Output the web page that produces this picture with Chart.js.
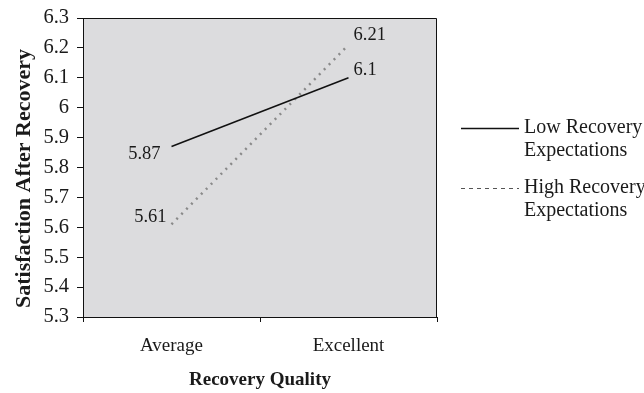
<!DOCTYPE html>
<html>
<head>
<meta charset="utf-8">
<script src="https://cdn.jsdelivr.net/npm/chart.js@4"></script>
<style>
    html, body { margin: 0; padding: 0; background: #fff; }
    #wrap { width: 644px; height: 393px; }
</style>
</head>
<body>
<div id="wrap"><canvas id="chart" width="644" height="393"></canvas></div>
<script>
const CATEGORIES = ['Average', 'Excellent'];
const LOW_EXPECTATIONS = [5.87, 6.1];
const HIGH_EXPECTATIONS = [5.61, 6.21];
const SERIES_NAMES = [['Low Recovery', 'Expectations'], ['High Recovery', 'Expectations']];
const Y_MIN = 5.3;
const Y_MAX = 6.3;
const Y_STEP = 0.1;

const SERIF = "'Liberation Serif', 'Times New Roman', serif";
const TEXT_COLOR = '#1a1a1a';

// where each value label sits relative to its point
const LABEL_PLACEMENT = [
    [{ dx: -11, dy: 8, align: 'right' }, { dx: 5, dy: -8, align: 'left' }],
    [{ dx: -5, dy: -7, align: 'right' }, { dx: 5, dy: -10, align: 'left' }]
];

function formatTick(value) {
    return String(Number(value.toFixed(1)));
}

const plotBox = {
    id: 'plotBox',
    beforeDraw(chart) {
        const { ctx, chartArea: a } = chart;
        ctx.save();
        ctx.fillStyle = '#dcdcde';
        ctx.fillRect(a.left, a.top, a.right - a.left, a.bottom - a.top);
        ctx.restore();
    },
    afterDatasetsDraw(chart) {
        const { ctx, chartArea: a } = chart;
        ctx.save();
        ctx.strokeStyle = '#111';
        ctx.lineWidth = 1;
        ctx.beginPath();
        ctx.moveTo(a.left, a.top + 0.5);
        ctx.lineTo(a.right - 0.5, a.top + 0.5);
        ctx.lineTo(a.right - 0.5, a.bottom);
        ctx.stroke();
        ctx.restore();
    }
};

const valueLabels = {
    id: 'valueLabels',
    afterDatasetsDraw(chart) {
        const { ctx } = chart;
        ctx.save();
        ctx.font = `18.5px ${SERIF}`;
        ctx.fillStyle = TEXT_COLOR;
        ctx.textBaseline = 'middle';
        chart.data.datasets.forEach((ds, i) => {
            chart.getDatasetMeta(i).data.forEach((pt, j) => {
                const p = LABEL_PLACEMENT[i][j];
                ctx.textAlign = p.align;
                ctx.fillText(String(ds.data[j]), pt.x + p.dx, pt.y + p.dy);
            });
        });
        ctx.restore();
    }
};

const sideLegend = {
    id: 'sideLegend',
    afterDraw(chart) {
        const { ctx } = chart;
        const rows = [128, 188];
        ctx.save();
        ctx.font = `20px ${SERIF}`;
        ctx.fillStyle = TEXT_COLOR;
        ctx.textBaseline = 'middle';
        ctx.textAlign = 'left';
        chart.data.datasets.forEach((ds, i) => {
            const y = rows[i];
            ctx.beginPath();
            ctx.strokeStyle = i === 0 ? '#111' : '#555';
            ctx.lineWidth = i === 0 ? 1.3 : 1;
            ctx.setLineDash(i === 0 ? [] : [4, 4]);
            ctx.moveTo(461, y + 0.5);
            ctx.lineTo(519, y + 0.5);
            ctx.stroke();
            ctx.setLineDash([]);
            SERIES_NAMES[i].forEach((line, k) => {
                ctx.fillText(line, 524, y + k * 23);
            });
        });
        ctx.restore();
    }
};

new Chart(document.getElementById('chart'), {
    type: 'line',
    data: {
        labels: CATEGORIES,
        datasets: [{
            label: SERIES_NAMES[0].join(' '),
            data: LOW_EXPECTATIONS,
            borderColor: '#111',
            borderWidth: 1.5,
            pointRadius: 0,
            tension: 0
        }, {
            label: SERIES_NAMES[1].join(' '),
            data: HIGH_EXPECTATIONS,
            borderColor: '#8a8a8a',
            borderWidth: 2.5,
            borderDash: [2, 5],
            pointRadius: 0,
            tension: 0
        }]
    },
    options: {
        responsive: false,
        animation: false,
        layout: { padding: { top: 18, right: 207, left: 0, bottom: 0 } },
        plugins: {
            legend: { display: false },
            tooltip: { enabled: false }
        },
        scales: {
            x: {
                offset: true,
                grid: { drawOnChartArea: false, drawTicks: true, tickLength: 5, offset: true, color: '#111' },
                border: { color: '#111', width: 1 },
                ticks: { color: TEXT_COLOR, font: { family: SERIF, size: 19 }, padding: 13 },
                title: {
                    display: true,
                    text: 'Recovery Quality',
                    color: TEXT_COLOR,
                    font: { family: SERIF, size: 19, weight: 'bold' },
                    padding: { top: 0, bottom: 2 }
                },
                afterFit(scale) { scale.height = 76; }
            },
            y: {
                min: Y_MIN,
                max: Y_MAX,
                grid: { drawOnChartArea: false, drawTicks: true, tickLength: 6, color: '#111' },
                border: { color: '#111', width: 1 },
                ticks: {
                    stepSize: Y_STEP,
                    color: TEXT_COLOR,
                    font: { family: SERIF, size: 20.5 },
                    padding: 8,
                    callback: value => formatTick(value)
                },
                title: {
                    display: true,
                    // trailing spaces nudge the rotated title down, as in the original
                    text: 'Satisfaction After Recovery    ',
                    color: TEXT_COLOR,
                    font: { family: SERIF, size: 22, weight: 'bold' },
                    padding: { top: 11, bottom: 0 }
                },
                afterFit(scale) {
                    scale.width = 83;
                    scale.paddingTop = 0;
                    scale.paddingBottom = 0;
                }
            }
        }
    },
    plugins: [plotBox, valueLabels, sideLegend]
});
</script>
</body>
</html>
